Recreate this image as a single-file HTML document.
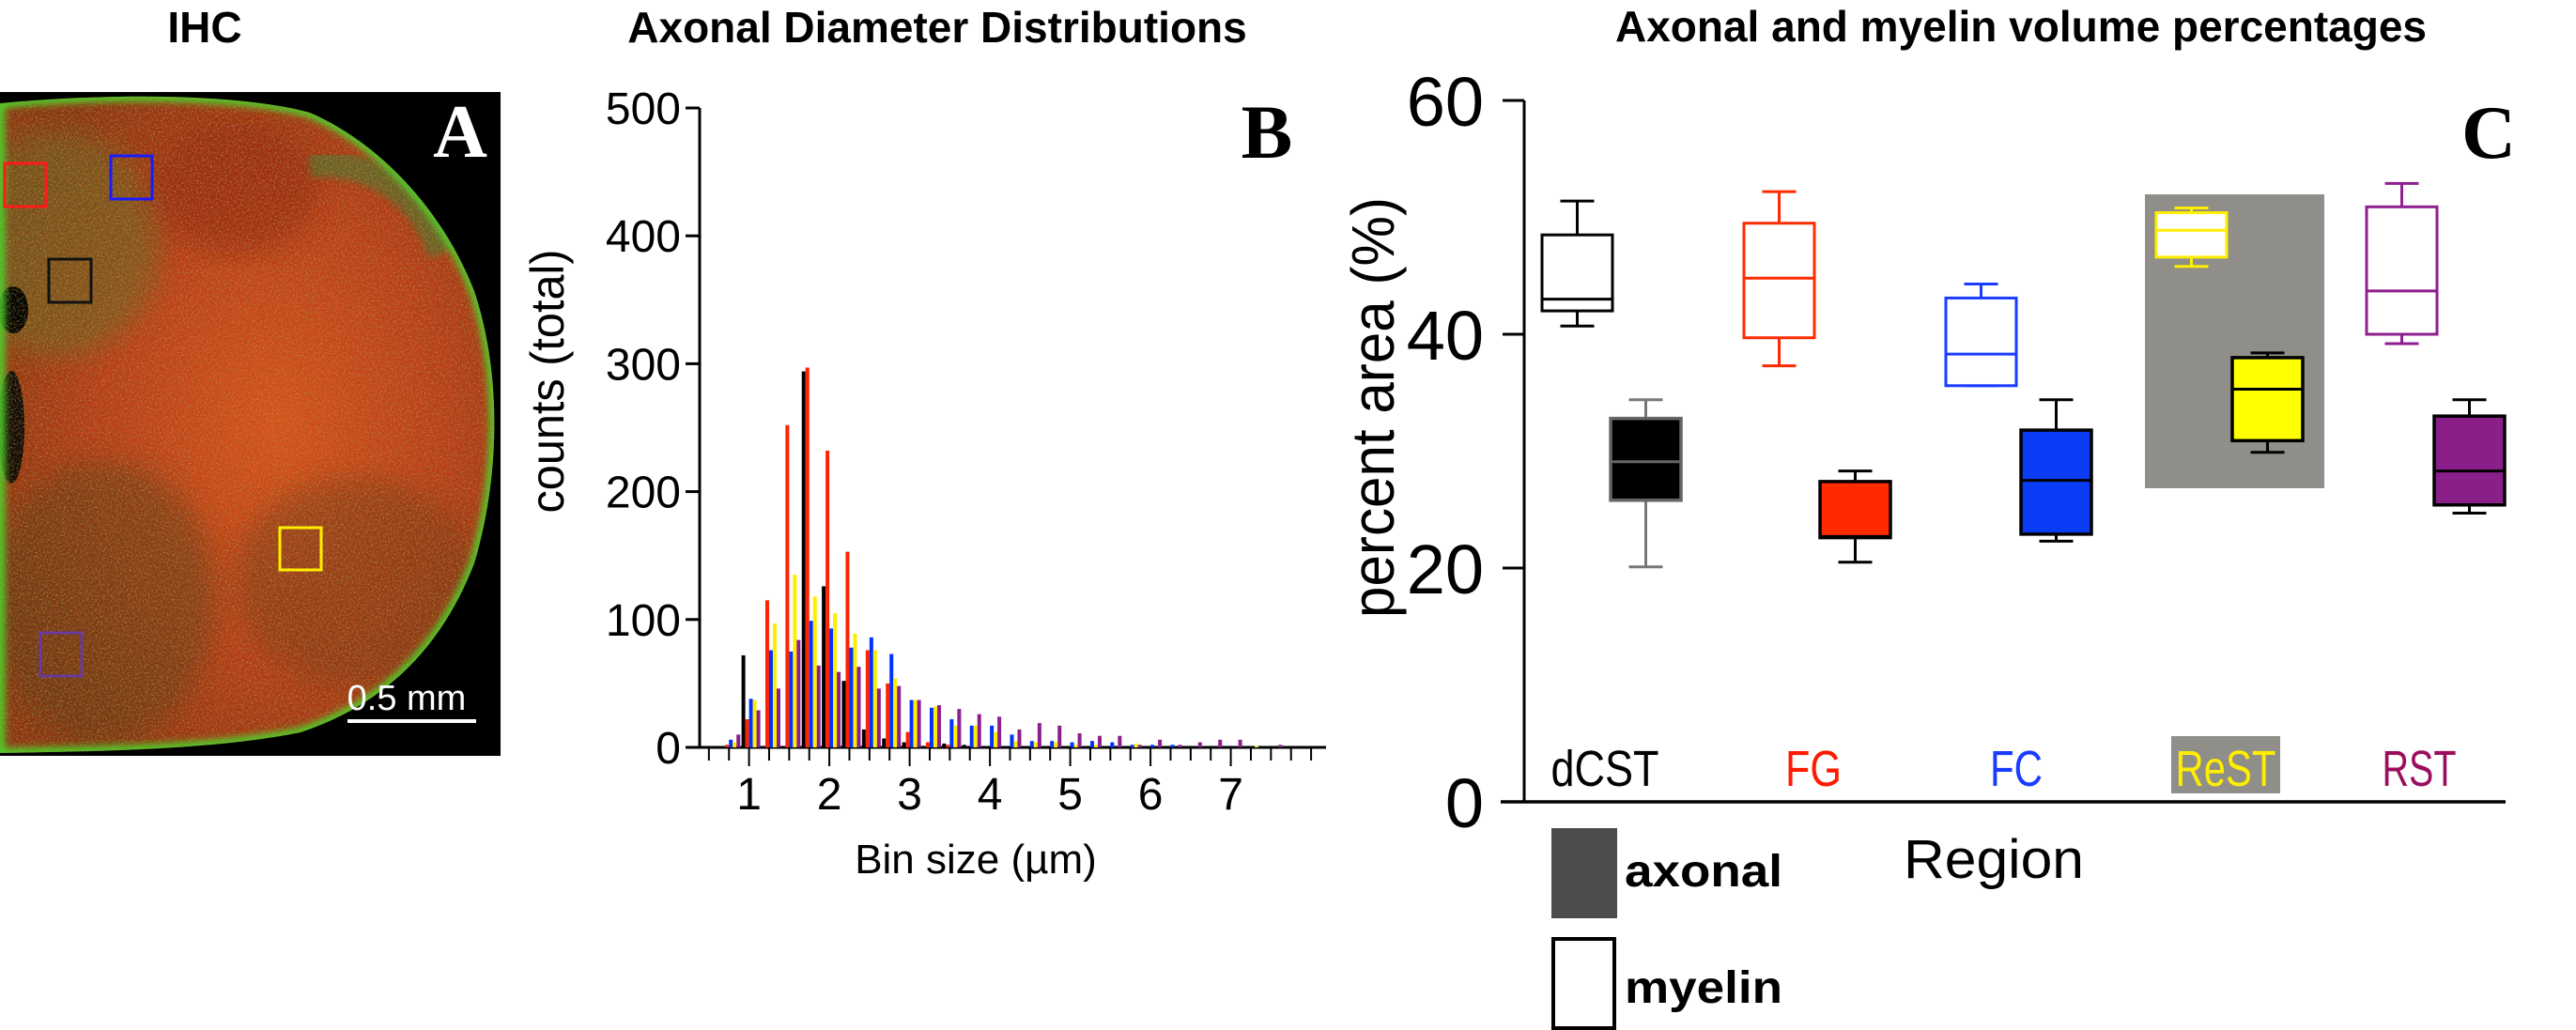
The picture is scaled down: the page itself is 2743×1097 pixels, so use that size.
<!DOCTYPE html>
<html><head><meta charset="utf-8"><style>
html,body{margin:0;padding:0;background:#fff;}
svg{display:block;}
text{font-family:"Liberation Sans",sans-serif;}
text.serif{font-family:"Liberation Serif",serif;}
</style></head><body>
<svg id="fig" width="2743" height="1097" viewBox="0 0 2743 1097" xmlns="http://www.w3.org/2000/svg">
<defs>
<radialGradient id="tg" cx="0.55" cy="0.5" r="0.6">
<stop offset="0" stop-color="#d4501c"/><stop offset="0.6" stop-color="#b43c18"/><stop offset="1" stop-color="#8a3412"/>
</radialGradient>
<filter id="noise" x="0" y="0" width="100%" height="100%">
<feTurbulence type="fractalNoise" baseFrequency="0.5" numOctaves="2" seed="3"/>
<feColorMatrix values="0 0 0 0 0.25  0 0 0 0 0.45  0 0 0 0 0.1  0 0 0 1.4 -0.7"/>
</filter>
<filter id="noise2" x="0" y="0" width="100%" height="100%">
<feTurbulence type="fractalNoise" baseFrequency="0.6" numOctaves="1" seed="8"/>
<feColorMatrix values="0 0 0 0 1  0 0 0 0 0.25  0 0 0 0 0.05  0 0 0 1.8 -0.95"/>
</filter>
<filter id="blur4"><feGaussianBlur stdDeviation="4"/></filter>
<filter id="blur12"><feGaussianBlur stdDeviation="14"/></filter>
<clipPath id="tclip"><path id="tpath" d="M0,110 C100,100 250,98 330,120 C400,150 470,220 505,310 C535,400 532,510 505,600 C470,690 410,750 320,780 C220,800 90,800 0,802 Z"/></clipPath>
</defs>

<g>
<text x="218" y="45" font-size="46" font-weight="bold" text-anchor="middle">IHC</text>
<rect x="0" y="98" width="533" height="707" fill="#000"/>
<g clip-path="url(#tclip)">
<rect x="0" y="98" width="533" height="707" fill="url(#tg)"/>
<ellipse cx="60" cy="260" rx="110" ry="120" fill="#6a6422" opacity="0.6" filter="url(#blur12)"/>
<ellipse cx="110" cy="640" rx="120" ry="150" fill="#5a3c18" opacity="0.5" filter="url(#blur12)"/>
<ellipse cx="380" cy="620" rx="130" ry="110" fill="#6a3a16" opacity="0.45" filter="url(#blur12)"/>
<ellipse cx="250" cy="200" rx="90" ry="70" fill="#8a2010" opacity="0.5" filter="url(#blur12)"/>
<path d="M330,175 C400,170 450,210 470,270" stroke="#5a6a2a" stroke-width="28" fill="none" filter="url(#blur4)" opacity="0.8"/>
<ellipse cx="14" cy="330" rx="16" ry="25" fill="#000"/>
<ellipse cx="12" cy="455" rx="14" ry="60" fill="#100804"/>
<rect x="0" y="98" width="533" height="707" filter="url(#noise)"/>
<rect x="0" y="98" width="533" height="707" filter="url(#noise2)"/>
<use href="#tpath" fill="none" stroke="#4fd22a" stroke-width="10" filter="url(#blur4)"/>
</g>
<text class="serif" x="490" y="167" font-size="80" font-weight="bold" fill="#fff" text-anchor="middle">A</text>
<rect x="5" y="174" width="44" height="46" fill="none" stroke="#ff1a1a" stroke-width="3"/>
<rect x="118" y="166" width="44" height="46" fill="none" stroke="#1a1aff" stroke-width="3"/>
<rect x="52" y="276" width="45" height="46" fill="none" stroke="#111" stroke-width="3"/>
<rect x="298" y="562" width="44" height="45" fill="none" stroke="#ffee00" stroke-width="3"/>
<rect x="43" y="674" width="44" height="46" fill="none" stroke="#6a3a9a" stroke-width="3"/>
<text x="433" y="756" font-size="38" fill="#fff" text-anchor="middle">0.5 mm</text>
<rect x="370" y="766" width="137" height="4" fill="#fff"/>
</g>

<g id="panelB">
<text x="998" y="45" font-size="46" font-weight="bold" text-anchor="middle">Axonal Diameter Distributions</text>
<text class="serif" x="1349" y="168" font-size="82" font-weight="bold" text-anchor="middle">B</text>
<text transform="translate(600,406) rotate(-90)" font-size="50" text-anchor="middle" textLength="281" lengthAdjust="spacingAndGlyphs">counts (total)</text>
<text x="1039" y="930" font-size="44" text-anchor="middle">Bin size (µm)</text>
</g>

<g id="panelC">
<text x="2152" y="44" font-size="46" font-weight="bold" text-anchor="middle">Axonal and myelin volume percentages</text>
<text class="serif" x="2650" y="168" font-size="80" font-weight="bold" text-anchor="middle">C</text>
<rect x="2284" y="207" width="191" height="313" fill="#8f8e88"/>
<text transform="translate(1484,434) rotate(-90)" font-size="64" text-anchor="middle" textLength="448" lengthAdjust="spacingAndGlyphs">percent area (%)</text>
<text x="2123" y="935" font-size="58" text-anchor="middle" textLength="192" lengthAdjust="spacingAndGlyphs">Region</text>
<rect x="1652" y="882" width="70" height="96" fill="#4d4b4b"/>
<text x="1730" y="944" font-size="48" font-weight="bold" textLength="168" lengthAdjust="spacingAndGlyphs">axonal</text>
<rect x="1654" y="1000" width="65" height="95" fill="#fff" stroke="#000" stroke-width="4"/>
<text x="1730" y="1068" font-size="48" font-weight="bold" textLength="168" lengthAdjust="spacingAndGlyphs">myelin</text>
</g>
</svg>
<script>
const NS='http://www.w3.org/2000/svg';
const binCenters=[0.75,1,1.25,1.5,1.75,2,2.25,2.5,2.75,3,3.25,3.5,3.75,4,4.25,4.5,4.75,5,5.25,5.5,5.75,6,6.25,6.5,6.75,7,7.25,7.5];
const countsDCST=[0,72,0,0,294,126,52,14,7,4,0,3,2,0,0,0,0,0,0,0,0,0,0,0,0,0,0,0];
const countsFG=[2,22,115,252,297,232,153,76,50,12,4,2,0,0,0,0,0,0,0,0,0,0,0,0,0,0,0,0];
const countsFC=[6,38,76,75,99,93,78,86,73,37,31,22,17,17,10,5,5,4,5,4,2,2,2,0,0,0,0,0];
const countsReST=[4,37,97,135,118,105,89,76,54,37,32,17,17,12,5,4,4,2,2,0,3,0,0,0,0,0,1,0];
const countsRST=[10,29,46,84,64,59,63,46,48,37,33,30,26,24,14,19,17,11,9,9,2,6,2,4,6,6,0,2];
const histYTicks=[0,100,200,300,400,500];
const histXLabels=[1,2,3,4,5,6,7];
const seriesB=[
 {name:'dcst',vals:countsDCST,color:'#000000',off:-6},
 {name:'fg',vals:countsFG,color:'#ff2200',off:-2},
 {name:'fc',vals:countsFC,color:'#0033ff',off:2},
 {name:'rest',vals:countsReST,color:'#ffee00',off:6},
 {name:'rst',vals:countsRST,color:'#8b1f8b',off:10}];
const regions=['dCST','FG','FC','ReST','RST'];
const regionColors=['#000000','#ff1a00','#1a3cff','#ffee00','#9b0f5f'];
const myelinColors=['#000000','#ff2a00','#1a3cff','#ffee00','#8e1f8e'];
const axonalFills=['#000000','#ff2a00','#0a3cf5','#ffff00','#8a1f8a'];
const myelinStats=[[40.7,42.0,43.0,48.5,51.4],[37.3,39.7,44.8,49.5,52.2],[35.6,35.6,38.3,43.1,44.3],[45.8,46.6,48.9,50.4,50.8],[39.2,40.0,43.7,50.9,52.9]];
const axonalStats=[[20.1,25.8,29.1,32.8,34.4],[20.5,22.6,22.7,27.4,28.3],[22.3,22.9,27.5,31.8,34.4],[29.9,30.9,35.3,38.0,38.4],[24.7,25.4,28.3,33.0,34.4]];
const boxYTicks=[0,20,40,60];

function mk(tag,attrs,parent){const e=document.createElementNS(NS,tag);for(const k in attrs)e.setAttribute(k,attrs[k]);parent.appendChild(e);return e;}

const gB=document.getElementById('panelB');
const bx=v=>797.6+(v-1)*85.5;
const by=v=>796-v*1.362;
let ax=mk('line',{x1:745,y1:by(500),x2:745,y2:by(0),stroke:'#000','stroke-width':3},gB);


ax=mk('line',{x1:730,y1:by(0),x2:1412,y2:by(0),stroke:'#000','stroke-width':3},gB);


histYTicks.forEach(t=>{
 const l=mk('line',{x1:730,y1:by(t),x2:745,y2:by(t),stroke:'#000','stroke-width':3},gB);
 
 
 const tx=mk('text',{x:725,y:by(t)+17,'font-size':48,'text-anchor':'end'},gB);
 tx.textContent=t;
 
 
});
for(let v=0.5;v<=8.001;v+=0.25){
 const major=histXLabels.includes(v);
 const l=mk('line',{x1:bx(v),y1:by(0),x2:bx(v),y2:by(0)+(major?20:14),stroke:'#000','stroke-width':2},gB);
 
 
}
histXLabels.forEach(v=>{
 const tx=mk('text',{x:bx(v),y:862,'font-size':48,'text-anchor':'middle'},gB);
 tx.textContent=v;
 
 
});
seriesB.forEach(s=>{
 s.vals.forEach((v,i)=>{
  if(v<=0)return;
  const r=mk('rect',{x:bx(binCenters[i])+s.off-2,y:by(v),width:4,height:by(0)-by(v),fill:s.color},gB);
  
  
 });
});

const gC=document.getElementById('panelC');
const cy=v=>854-v*12.45;
const myelinX=[1642,1857,2072,2296,2520];
const axonalX=[1715,1938,2152,2377,2592];
const boxW=75;
ax=mk('line',{x1:1623,y1:cy(60),x2:1623,y2:cy(0),stroke:'#000','stroke-width':3},gC);


ax=mk('line',{x1:1598,y1:cy(0),x2:2668,y2:cy(0),stroke:'#000','stroke-width':3.5},gC);


boxYTicks.forEach(t=>{
 const l=mk('line',{x1:1600,y1:cy(t),x2:1623,y2:cy(t),stroke:'#000','stroke-width':3},gC);
 
 
 const tx=mk('text',{x:1580,y:cy(t)+27,'font-size':74,'text-anchor':'end'},gC);
 tx.textContent=t;
 
 
});
const labelX=[1709,1931,2147,2370,2576];
const labelW=[115,60,56,107,79];
regions.forEach((r,i)=>{
 if(r==='ReST'){
  const bg=mk('rect',{x:2312,y:784,width:116,height:61,fill:'#8f8e88'},gC);
  
  
 }
 const tx=mk('text',{x:labelX[i],y:837,'font-size':54,'text-anchor':'middle',fill:regionColors[i],textLength:labelW[i],lengthAdjust:'spacingAndGlyphs'},gC);
 tx.textContent=r;
 
 
});
function drawBox(x,st,fill,stroke,whisk,name,sw){
 const g=mk('g',{},gC);
 
 
 const cx=x+boxW/2;
 mk('line',{x1:cx,y1:cy(st[4]),x2:cx,y2:cy(st[3]),stroke:whisk,'stroke-width':3},g);
 mk('line',{x1:cx,y1:cy(st[1]),x2:cx,y2:cy(st[0]),stroke:whisk,'stroke-width':3},g);
 mk('line',{x1:cx-18,y1:cy(st[4]),x2:cx+18,y2:cy(st[4]),stroke:whisk,'stroke-width':3},g);
 mk('line',{x1:cx-18,y1:cy(st[0]),x2:cx+18,y2:cy(st[0]),stroke:whisk,'stroke-width':3},g);
 mk('rect',{x:x,y:cy(st[3]),width:boxW,height:cy(st[1])-cy(st[3]),fill:fill,stroke:stroke,'stroke-width':sw},g);
 mk('line',{x1:x,y1:cy(st[2]),x2:x+boxW,y2:cy(st[2]),stroke:(fill==='#000000'?'#666':stroke),'stroke-width':3},g);
}
regions.forEach((r,i)=>{
 drawBox(myelinX[i],myelinStats[i],'#ffffff',myelinColors[i],myelinColors[i],'box-myelin-'+r.toLowerCase(),3);
 const aStroke=i===0?'#666':'#000';
 drawBox(axonalX[i],axonalStats[i],axonalFills[i],aStroke,i===0?'#777':'#000','box-axonal-'+r.toLowerCase(),3.5);
});
</script>
</body></html>
